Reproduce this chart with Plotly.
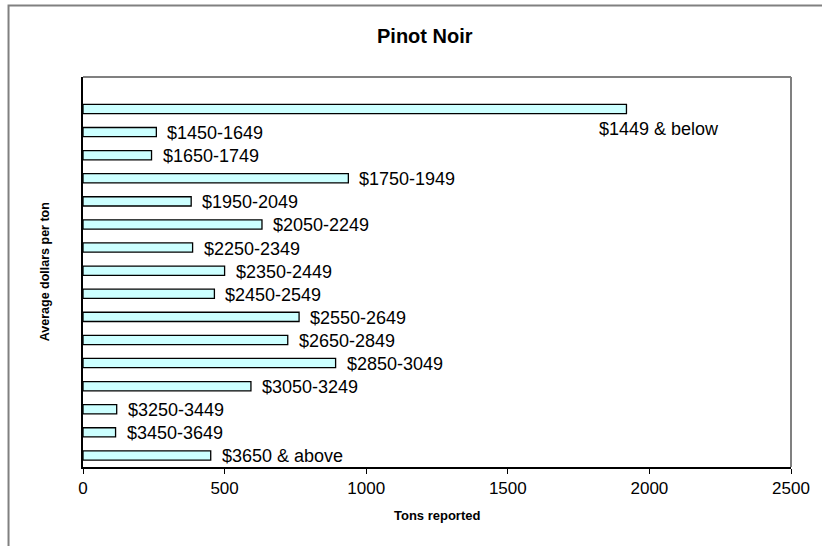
import plotly.graph_objects as go

categories = ["$1449 & below", "$1450-1649", "$1650-1749", "$1750-1949", "$1950-2049",
              "$2050-2249", "$2250-2349", "$2350-2449", "$2450-2549", "$2550-2649",
              "$2650-2849", "$2850-3049", "$3050-3249", "$3250-3449", "$3450-3649",
              "$3650 & above"]
tons = [1919, 259, 242, 937, 382, 632, 387, 500, 464, 763, 723, 892, 593, 119, 115, 451]
x_ticks = [0, 500, 1000, 1500, 2000, 2500]

FONT = "Liberation Sans, Arial, sans-serif"

fig = go.Figure()
fig.add_trace(go.Bar(
    x=tons, y=categories, orientation="h", width=0.4,
    marker=dict(color="#CCFFFF", line=dict(color="#000000", width=1.3)),
    hoverinfo="skip", showlegend=False,
))

annotations = []
for i, (c, v) in enumerate(zip(categories, tons)):
    if i == 0:
        annotations.append(dict(x=v, y=c, xref="x", yref="y", text=c, showarrow=False,
                                xanchor="left", yanchor="middle", xshift=-29, yshift=-20,
                                font=dict(family=FONT, size=18, color="#000000")))
    else:
        annotations.append(dict(x=v, y=c, xref="x", yref="y", text=c, showarrow=False,
                                xanchor="left", yanchor="middle", xshift=9, yshift=-1,
                                font=dict(family=FONT, size=18, color="#000000")))

# title and axis titles
annotations.append(dict(x=(427 - 83) / 713, y=(467 - 36) / 390, xref="paper", yref="paper",
                        text="<b>Pinot Noir</b>", showarrow=False, xanchor="center", yanchor="middle",
                        font=dict(family=FONT, size=20, color="#000000")))
annotations.append(dict(x=0.5, y=(467 - 515) / 390, xref="paper", yref="paper",
                        text="<b>Tons reported</b>", showarrow=False, xanchor="center", yanchor="middle",
                        font=dict(family=FONT, size=13, color="#000000")))
annotations.append(dict(x=(45 - 83) / 713, y=0.5, xref="paper", yref="paper",
                        text="<b>Average dollars per ton</b>", showarrow=False, textangle=-90,
                        xanchor="center", yanchor="middle",
                        font=dict(family=FONT, size=12.5, color="#000000")))

shapes = [
    # outer chart border (left and top visible)
    dict(type="rect", xref="paper", yref="paper", x0=(8 - 83) / 713, x1=1.1, y0=-0.3, y1=(467 - 5.5) / 390,
         line=dict(color="#808080", width=2), layer="below"),
    # plot area top and right borders
    dict(type="line", xref="paper", yref="paper", x0=0, x1=1, y0=1, y1=1,
         line=dict(color="#808080", width=2)),
    dict(type="line", xref="paper", yref="paper", x0=1, x1=1, y0=0, y1=1,
         line=dict(color="#808080", width=2)),
]

fig.update_layout(
    width=822, height=546,
    margin=dict(l=83, r=26, t=77, b=79),
    paper_bgcolor="#FFFFFF", plot_bgcolor="#FFFFFF",
    font=dict(family=FONT, color="#000000"),
    annotations=annotations, shapes=shapes,
    xaxis=dict(range=[0, 2500], tickvals=x_ticks, ticktext=[str(t) for t in x_ticks],
               showgrid=False, zeroline=False, showline=True, linecolor="#000000", linewidth=1.5,
               ticks="outside", ticklen=5, tickwidth=1.2, tickcolor="#000000",
               tickfont=dict(family=FONT, size=17, color="#000000"), fixedrange=True),
    yaxis=dict(categoryorder="array", categoryarray=categories, autorange="reversed",
               showticklabels=False, showgrid=False, zeroline=False, showline=True,
               linecolor="#000000", linewidth=1.5, ticks="", fixedrange=True),
)

fig.write_html("out.html", config={"displayModeBar": False},
               post_script="document.body.style.margin='0px';document.body.style.overflow='hidden';")
